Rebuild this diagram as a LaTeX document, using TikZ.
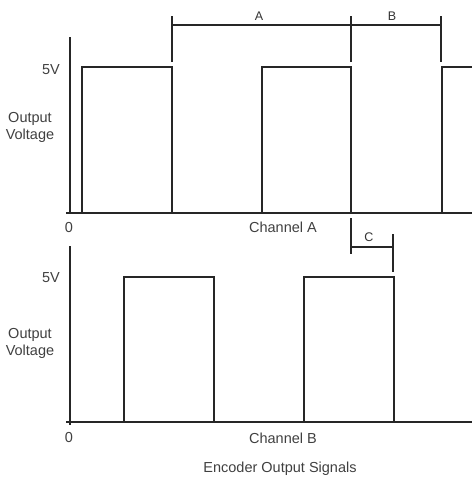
\documentclass[tikz,border=0pt]{standalone}
\usepackage{fontspec}
\setmainfont{Liberation Sans}
\begin{document}
\begin{tikzpicture}[x=1pt,y=-1pt,
  sig/.style={draw=black!85,line width=1.4pt,line join=miter},
  ax/.style={draw=black!85,line width=1.4pt},
  lbl/.style={text=black!75,font=\fontsize{14.5}{17}\selectfont,inner sep=0pt},
  dim/.style={text=black!80,font=\fontsize{12.5}{14}\selectfont,inner sep=0pt}]
\useasboundingbox (0,0) rectangle (472,479);
% ---- top chart: Channel A ----
\draw[ax] (70,37) -- (70,213);
\draw[ax] (66,213) -- (472,213);
\draw[sig] (82,213) -- (82,67) -- (172,67) -- (172,213);
\draw[sig] (262,213) -- (262,67) -- (351,67) -- (351,213);
\draw[sig] (442,213) -- (442,67) -- (472,67);
% dimension A/B
\draw[ax] (172,16) -- (172,62);
\draw[ax] (351,16) -- (351,62);
\draw[ax] (441,16) -- (441,62);
\draw[ax] (172,25) -- (441,25);
\node[dim] (lA) at (259,16) {A};
\node[dim] (lB) at (392,16) {B};
% labels
\node[lbl] (v5a) at (51,69.5) {5V};
\node[lbl,align=center] (ova) at (30,127) {Output\\Voltage};
\node[lbl] (z0a) at (69,228) {0};
\node[lbl] (cha) at (283,227) {Channel A};
% dimension C
\draw[ax] (351,218) -- (351,254);
\draw[ax] (393,234) -- (393,272);
\draw[ax] (351,247) -- (393,247);
\node[dim] (lC) at (369,237) {C};
% ---- bottom chart: Channel B ----
\draw[ax] (70,246) -- (70,425);
\draw[ax] (66,422) -- (472,422);
\draw[sig] (124,422) -- (124,277) -- (214,277) -- (214,422);
\draw[sig] (304,422) -- (304,277) -- (394,277) -- (394,422);
\node[lbl] (v5b) at (51,277.5) {5V};
\node[lbl,align=center] (ovb) at (30,343) {Output\\Voltage};
\node[lbl] (z0b) at (69,438) {0};
\node[lbl] (chb) at (283,438) {Channel B};
\node[lbl] (title) at (280,469) {Encoder Output Signals};
\end{tikzpicture}
\end{document}
